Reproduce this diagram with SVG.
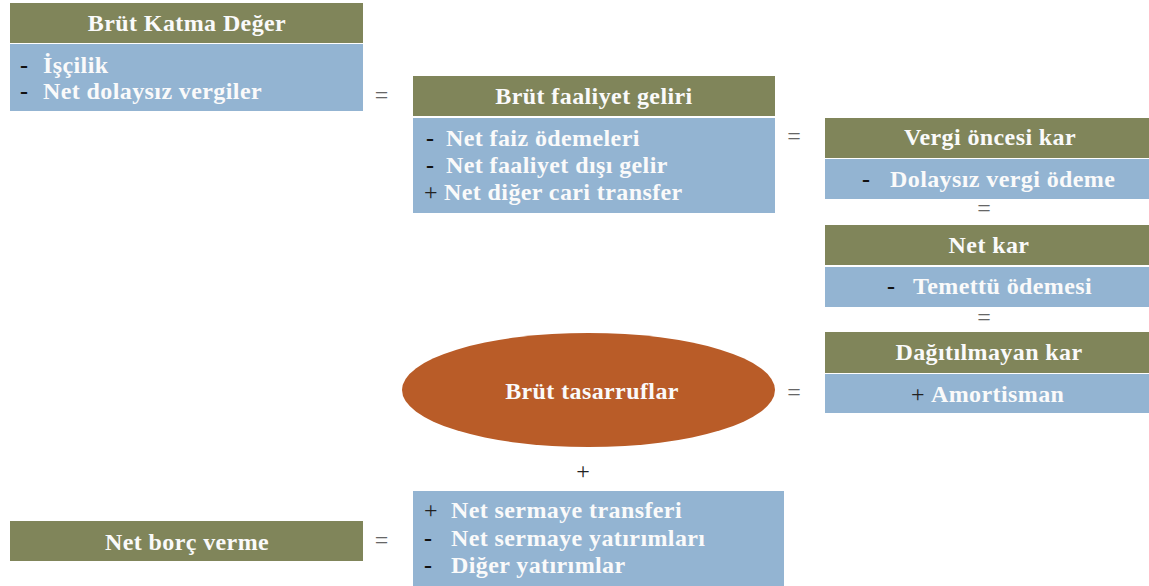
<svg xmlns="http://www.w3.org/2000/svg" width="1149" height="586" viewBox="0 0 1149 586">
<style>
.hd{fill:#80855A}
.bl{fill:#93B4D2}
.el{fill:#B95C28}
text{font-family:"Liberation Serif","Times New Roman",serif;font-size:24px}
.t{fill:#FAFAFA;font-weight:bold;letter-spacing:0.4px}
.c{text-anchor:middle}
.d{fill:#111;font-weight:bold}
.p{fill:#222;font-weight:normal}
.op{fill:#666;font-weight:normal;text-anchor:middle}
</style>
<rect width="1149" height="586" fill="#FFFFFF"/>
<g id="brut-katma-deger">
<rect class="hd" x="10" y="3" width="353" height="40"/>
<text class="t c" x="187" y="31">Brüt Katma Değer</text>
<rect class="bl" x="10" y="44" width="353" height="67"/>
<text class="d" x="20" y="73">-</text><text class="t" x="43" y="73">İşçilik</text>
<text class="d" x="20" y="99">-</text><text class="t" x="43" y="99">Net dolaysız vergiler</text>
</g>
<g id="brut-faaliyet-geliri">
<rect class="hd" x="413" y="76" width="362" height="40"/>
<text class="t c" x="594" y="104">Brüt faaliyet geliri</text>
<rect class="bl" x="413" y="118" width="362" height="95"/>
<text class="d" x="426" y="146">-</text><text class="t" x="446" y="146">Net faiz ödemeleri</text>
<text class="d" x="426" y="173">-</text><text class="t" x="446" y="173">Net faaliyet dışı gelir</text>
<text class="p" x="424" y="200">+</text><text class="t" x="444" y="200">Net diğer cari transfer</text>
</g>
<g id="vergi-oncesi-kar">
<rect class="hd" x="825" y="118" width="324" height="40"/>
<text class="t c" x="990" y="145">Vergi öncesi kar</text>
<rect class="bl" x="825" y="159" width="324" height="40"/>
<text class="d" x="862" y="187">-</text><text class="t" x="890" y="187">Dolaysız vergi ödeme</text>
</g>
<g id="net-kar">
<rect class="hd" x="825" y="225" width="324" height="40"/>
<text class="t c" x="989" y="253">Net kar</text>
<rect class="bl" x="825" y="267" width="324" height="40"/>
<text class="d" x="887" y="294">-</text><text class="t" x="913" y="294">Temettü ödemesi</text>
</g>
<g id="dagitilmayan-kar">
<rect class="hd" x="825" y="332" width="324" height="41"/>
<text class="t c" x="989" y="360">Dağıtılmayan kar</text>
<rect class="bl" x="825" y="374" width="324" height="39"/>
<text class="p" x="911" y="402">+</text><text class="t" x="931" y="402">Amortisman</text>
</g>
<g id="brut-tasarruflar">
<ellipse class="el" cx="588.5" cy="390" rx="186.5" ry="57"/>
<text class="t c" x="592" y="399">Brüt tasarruflar</text>
</g>
<g id="net-borc-verme">
<rect class="hd" x="10" y="521" width="353" height="40"/>
<text class="t c" x="187" y="550">Net borç verme</text>
</g>
<g id="sermaye">
<rect class="bl" x="413" y="491" width="371" height="95"/>
<text class="p" x="424" y="518">+</text><text class="t" x="451" y="518">Net sermaye transferi</text>
<text class="d" x="424" y="546">-</text><text class="t" x="451" y="546">Net sermaye yatırımları</text>
<text class="d" x="424" y="573">-</text><text class="t" x="451" y="573">Diğer yatırımlar</text>
</g>
<g id="connectors">
<text class="op" x="381.5" y="103">=</text>
<text class="op" x="794" y="144">=</text>
<text class="op" x="984" y="216">=</text>
<text class="op" x="984" y="325">=</text>
<text class="op" x="794" y="400">=</text>
<text class="p c" x="583" y="479">+</text>
<text class="op" x="381.5" y="548">=</text>
</g>
</svg>
